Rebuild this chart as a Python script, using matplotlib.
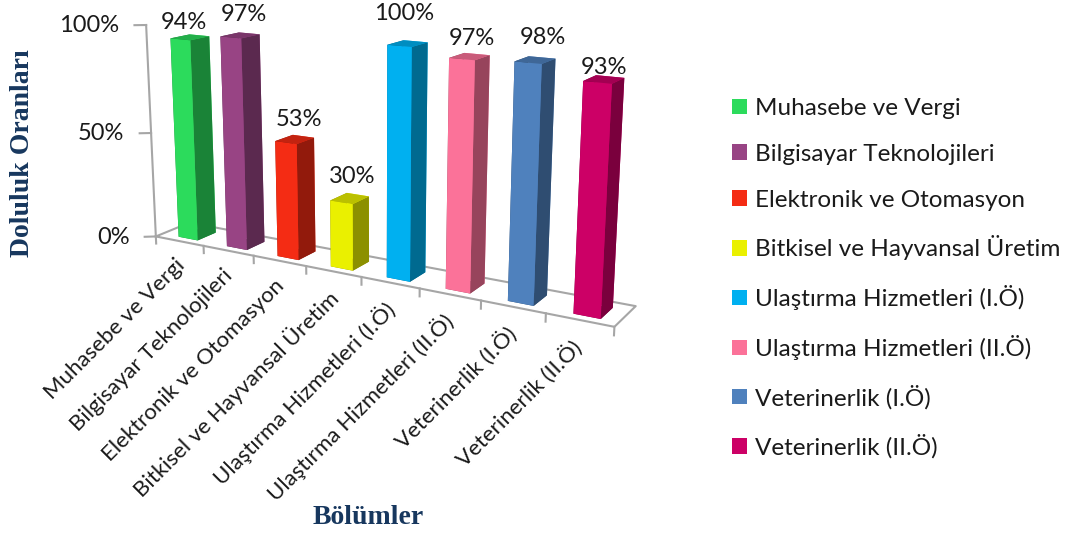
import numpy as np
import matplotlib
matplotlib.use("Agg")
import matplotlib.pyplot as plt
from matplotlib.patches import Patch
from matplotlib.colors import to_rgb
from mpl_toolkits.mplot3d import proj3d

plt.rcParams['font.family'] = ['Lato', 'DejaVu Sans']

categories = ["Muhasebe ve Vergi", "Bilgisayar Teknolojileri", "Elektronik ve Otomasyon",
              "Bitkisel ve Hayvansal Üretim", "Ulaştırma Hizmetleri (I.Ö)",
              "Ulaştırma Hizmetleri (II.Ö)", "Veterinerlik (I.Ö)", "Veterinerlik (II.Ö)"]
values = [94, 97, 53, 30, 100, 97, 98, 93]
colors = ["#2CDB5C", "#984484", "#F42C14", "#EAF000", "#00B0F0", "#FB7299", "#4F81BD", "#CC0066"]
y_ticks = [0, 50, 100]
# hand nudges of the value labels, the original ones were moved around
label_dx = [-.09, .11, .11, .08, -.03, .06, .13, .02]
label_dz = [6.5, 9.5, 9, 10, 12, 7, 9, 4.5]

W, H = 1070, 535
fig = plt.figure(figsize=(W / 100, H / 100), dpi=100)
# camera fitted against the reference floor corners and ticks
ax = fig.add_axes([258.73 / W, 260.38 / H, 228.80 / W, 228.80 / H], projection='3d')
ax.view_init(elev=14.2165, azim=-60.0352)
ax.set_box_aspect((1, 0.1121, 0.4444), zoom=2.4685)
ax.set_xlim(0, 8, view_margin=0)
ax.set_ylim(0, 1, view_margin=0)
ax.set_zlim(0, 100, view_margin=0)
ax.set_axis_off()


def text3d(x, y, z, s, **kwargs):
    # Text3D ignores rotation, so project the anchor and draw a plain text
    px, py, _ = proj3d.proj_transform(x, y, z, ax.get_proj())
    ax.text2D(px, py, s, transform=ax.transData, clip_on=False, color='#1a1a1a', **kwargs)


for i, v in enumerate(values):
    c = np.array(to_rgb(colors[i]))
    faces = [c * .6, c * .8, c, c, c * .6, c * .6]
    bar = ax.bar3d(i + .34, .2, 0, .40, .55, v, color=[tuple(f) for f in faces], shade=False, linewidth=0)
    bar.set_clip_on(False)
    text3d(i + .5 + label_dx[i], .5, v + label_dz[i], f"{v}%", ha='center', va='center', fontsize=17)

gray = '#A6A6A6'
ax.plot([0, 8, 8, 0, 0], [0, 0, 1, 1, 0], [0, 0, 0, 0, 0], color=gray, lw=1.5, clip_on=False)
ax.plot([0, 0], [0, 0], [0, 100], color=gray, lw=1.5, clip_on=False)
for t in y_ticks:
    ax.plot([0, -.15], [0, -.12], [t, t], color=gray, lw=1.5, clip_on=False)
    text3d(-.36, -.27, t, f"{t}%", ha='right', va='center', fontsize=17)
for i in range(len(categories) + 1):
    ax.plot([i, i], [0, 0], [0, -3.5], color=gray, lw=1.5, clip_on=False)
for i, name in enumerate(categories):
    text3d(i + .38, 0, -7.5, name, rotation=45, rotation_mode='anchor', ha='right', va='top', fontsize=16)

fig.text(23 / W, 1 - 153 / H, "Doluluk Oranları", rotation=90, ha='center', va='center', fontsize=20,
         family='Liberation Serif', fontweight='bold', color='#17375E')
fig.text(368 / W, 1 - 518 / H, "Bölümler", ha='center', va='center', fontsize=20,
         family='Liberation Serif', fontweight='bold', color='#17375E')

handles = [Patch(facecolor=c, label=n) for c, n in zip(colors, categories)]
fig.legend(handles=handles, loc='upper left', bbox_to_anchor=(732 / W, 1 - 98 / H), frameon=False, fontsize=17.5,
           handlelength=.62, handleheight=.62, handletextpad=.33, labelspacing=1.02, borderpad=0, borderaxespad=0,
           labelcolor='#1a1a1a')

fig.savefig("out.png", dpi=100)
